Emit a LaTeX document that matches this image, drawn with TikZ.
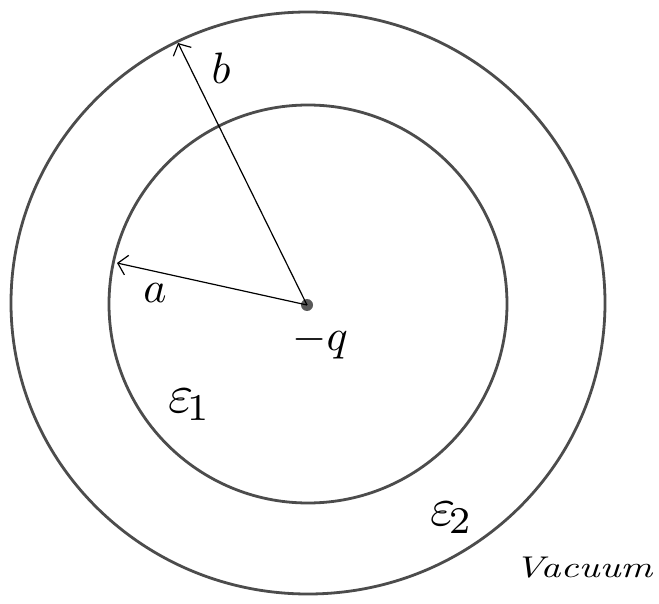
\documentclass[tikz,border=0pt]{standalone}
\usetikzlibrary{arrows.meta}
\newcommand{\handtext}[2]{\scalebox{#1}{#2}}
\begin{document}
\begin{tikzpicture}[x=1pt,y=-1pt,
  ring/.style={draw=black!70, line width=2.8pt},
  radius arrow/.style={draw=black, line width=1.2pt, -{Straight Barb[length=9pt,width=20pt,line width=1.2pt]}},
  hand/.style={inner sep=0pt}]
\useasboundingbox (0,0) rectangle (659,604);
\fill[white] (0,0) rectangle (659,604);
% rings
\draw[ring] (308,303) ellipse [x radius=297, y radius=291];
\draw[ring] (308,304) circle [radius=199];
% charge
\fill[black!65] (307,305) circle [radius=6];
\coordinate (q) at (307,305);
\coordinate (aend) at (117,263);
\coordinate (bend) at (178,43);
\draw[radius arrow] (q) -- (aend);
\draw[radius arrow] (q) -- (bend);
% labels
\node[hand] (lb) at (221,68) {\handtext{4.4}{$b$}};
\node[hand] (la) at (155,293) {\handtext{4.4}{$a$}};
\node[hand] (lq) at (320,342) {\handtext{4.4}{$-q$}};
\node[hand] (le1) at (190,405) {\handtext{5.4}{$\varepsilon_{\!1}$}};
\node[hand] (le2) at (452,518) {\handtext{5.4}{$\varepsilon_{\!2}$}};
\node[hand] (lv) at (584,568) {\scalebox{3.9}[3.0]{\textit{Vacuum}}};
\end{tikzpicture}
\end{document}
